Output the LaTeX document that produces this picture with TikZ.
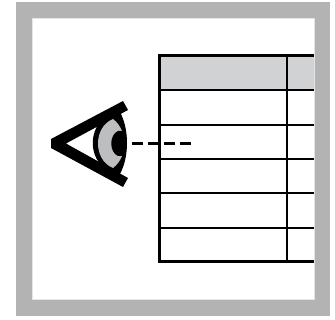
\documentclass[tikz,border=0pt]{standalone}
\usetikzlibrary{positioning, arrows.meta}
\definecolor{framegray}{HTML}{B3B3B3}
\definecolor{headgray}{HTML}{D1D2D4}
\definecolor{irisgray}{HTML}{BCBEC0}
\tikzset{
    frame/.style = {fill=framegray, draw=none},
    page/.style = {fill=white, draw=black!10, line width=0.7pt},
    outerline/.style = {draw=black, line width=3pt, line cap=butt},
    innerline/.style = {draw=black, line width=1.6pt},
    gaze/.style = {draw=black, line width=2.4pt, dash pattern=on 10.5pt off 5.5pt}
}
\begin{document}
\begin{tikzpicture}[x=1pt,y=-1pt]
		\useasboundingbox (0,0) rectangle (335,320);
		\path [frame] (16,2) rectangle (330,316);
		\path [page] (32,18) rectangle (314,299);
		\path [fill=headgray] (159,56) rectangle (314,90);
		\foreach \y in {90,125,159,193,228} {
			\draw [innerline] (159,\y) -- (314,\y);
		}
		\draw [innerline] (287,56) -- (287,262);
		\draw [outerline] (314,56) -- (159,56) -- (159,262) -- (314,262);
		\coordinate (pupil) at (132,143.5);
		\coordinate (target) at (191,143.5);
		\draw [gaze] (pupil) -- (target);
		\path [fill=black] (107,116) .. controls (88,128) and (88,158) .. (107,170) -- (118,177) .. controls (130,160) and (130,126) .. (118,109) -- cycle;
		\path [fill=irisgray] (113,119) .. controls (93,127) and (93,160) .. (113,168) .. controls (117,165) and (120,161) .. (122,156) .. controls (124,148) and (124,139) .. (122,131) .. controls (120,126) and (117,122) .. (113,119) -- cycle;
		\path [fill=black] (118,131) .. controls (109,135) and (109,152) .. (118,156) -- (125,156) -- (125,131) -- cycle;
		\path [fill=black] (123,101) -- (128,110) -- (66,143.5) -- (128,178) -- (123,187) -- (51,148) -- (51,139) -- cycle;
	\end{tikzpicture}
\end{document}
